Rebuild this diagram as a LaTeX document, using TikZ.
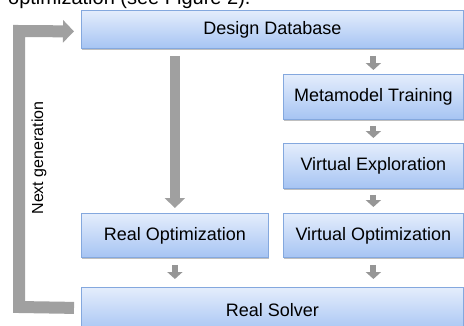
\documentclass[tikz,border=0pt]{standalone}
\usepackage{fontspec}
\setmainfont{Liberation Sans}
\usetikzlibrary{arrows.meta,shadows}
\definecolor{boxtop}{RGB}{228,237,252}
\definecolor{boxbot}{RGB}{166,196,243}
\definecolor{boxline}{RGB}{132,168,222}
\definecolor{arrgray}{RGB}{160,160,160}
\definecolor{smallgray}{RGB}{150,150,150}
\begin{document}
\begin{tikzpicture}[x=1pt,y=-1pt,
  box/.style={draw=boxline, line width=0.8pt, top color=boxtop, bottom color=boxbot,
    anchor=north west, inner sep=0pt, font=\fontsize{18}{20}\selectfont,
    drop shadow={shadow xshift=1pt, shadow yshift=-1.5pt, fill=black, opacity=0.25}},
  sarrow/.style={draw=smallgray, line width=6pt, -{Triangle[width=15pt,length=7pt]}},
  larrow/.style={draw=arrgray, line width=10pt, -{Triangle[width=20pt,length=10pt]}},
  farrow/.style={draw=arrgray, line width=12pt, line join=miter, line cap=butt,
    -{Triangle[width=22pt,length=11pt]}}]
\useasboundingbox (0,0) rectangle (464,325);
\clip (0,0) rectangle (464,325);
\node[anchor=base west, inner sep=0pt, font=\fontsize{20}{22}\selectfont] (cap) at (8,4) {optimization (see Figure 2).};
\node[box, minimum width=382pt, minimum height=38pt] (db) at (81,10) {Design Database};
\node[box, minimum width=180pt, minimum height=45pt] (mm) at (283,74) {Metamodel Training};
\node[box, minimum width=180pt, minimum height=45pt] (ve) at (283,143) {Virtual Exploration};
\node[box, minimum width=180pt, minimum height=44pt] (vo) at (283,213) {Virtual Optimization};
\node[box, minimum width=187pt, minimum height=44pt] (ro) at (81,213) {Real Optimization};
\node[box, minimum width=382pt, minimum height=45pt] (rs) at (81,287) {Real Solver};
\node[rotate=90, inner sep=0pt, font=\fontsize{16}{18}\selectfont] (ng) at (39,158) {Next generation};
% small arrows
\draw[sarrow] ([yshift=-7pt]db.south -| mm.north) -- ([yshift=4pt]mm.north);
\draw[sarrow] ([yshift=-6pt]mm.south) -- ([yshift=5pt]ve.north);
\draw[sarrow] ([yshift=-6pt]ve.south) -- ([yshift=6pt]vo.north);
\draw[sarrow] ([yshift=-7pt]vo.south) -- ([yshift=8pt]rs.north -| vo.south);
\draw[sarrow] ([yshift=-7pt]ro.south) -- ([yshift=8pt]rs.north -| ro.south);
% long arrow
\draw[larrow] ([yshift=-7pt]db.south -| ro.north) -- ([yshift=5pt]ro.north);
% feedback arrow
\coordinate (fb1) at ([xshift=-7pt,yshift=2pt]rs.west);
\coordinate (fb2) at ([xshift=-7pt,yshift=-2pt]db.west);
\draw[farrow] (fb1) -- (19,307) -- (19,31) -- (fb2);
\end{tikzpicture}
\end{document}
